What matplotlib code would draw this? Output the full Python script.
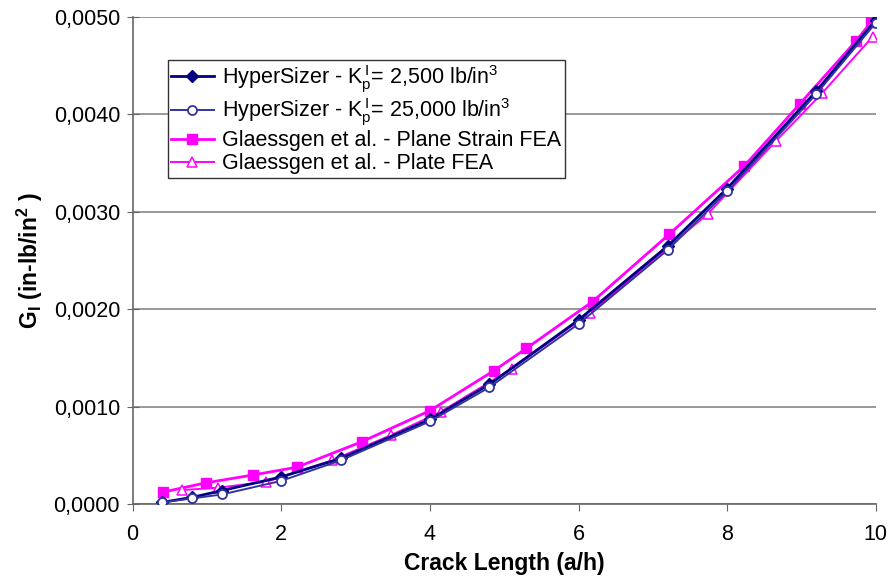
import matplotlib
matplotlib.use("Agg")
import matplotlib.pyplot as plt
from matplotlib.ticker import FuncFormatter, MultipleLocator

plt.rcParams['font.family'] = ['Liberation Sans', 'DejaVu Sans']
plt.rcParams['mathtext.fontset'] = 'custom'
plt.rcParams['mathtext.rm'] = 'Liberation Sans'
plt.rcParams['mathtext.it'] = 'Liberation Sans'
plt.rcParams['mathtext.bf'] = 'Liberation Sans:bold'

# HyperSizer data (same crack lengths for both foundation stiffnesses)
hs_x = [0.4, 0.8, 1.2, 2.0, 2.8, 4.0, 4.8, 6.0, 7.2, 8.0, 9.2, 10.0]
hs_2500 = [0.00002, 0.00007, 0.00014, 0.00028, 0.00047, 0.00087, 0.00123,
           0.00189, 0.00265, 0.00324, 0.00424, 0.00497]
hs_25000 = [0.00002, 0.00006, 0.00010, 0.00024, 0.00045, 0.00085, 0.00120,
            0.00185, 0.00261, 0.00321, 0.00421, 0.00494]

# Glaessgen et al. - Plane Strain FEA
ps_x = [0.41, 0.99, 1.62, 2.21, 3.08, 4.0, 4.86, 5.3, 6.19, 7.22, 8.23, 8.98, 9.73, 9.94]
ps_y = [0.000125, 0.00022, 0.00030, 0.00038, 0.00064, 0.00096, 0.00137, 0.00160,
        0.00208, 0.00277, 0.00347, 0.00411, 0.00475, 0.00495]

# Glaessgen et al. - Plate FEA
pl_x = [0.66, 1.15, 1.80, 2.68, 3.48, 4.15, 5.1, 6.15, 7.74, 8.66, 9.28, 9.96]
pl_y = [0.000145, 0.00017, 0.00023, 0.00045, 0.00071, 0.00095, 0.00139, 0.00196,
        0.00298, 0.00373, 0.00422, 0.00480]

labels = [r"HyperSizer - K$_\mathregular{p}^{\,\mathregular{I}}$= 2,500 lb/in$^\mathregular{3}$",
          r"HyperSizer - K$_\mathregular{p}^{\,\mathregular{I}}$= 25,000 lb/in$^\mathregular{3}$",
          "Glaessgen et al. - Plane Strain FEA",
          "Glaessgen et al. - Plate FEA"]

fig = plt.figure(figsize=(8.9, 5.87), dpi=100)
ax = fig.add_axes([0.149, 0.141, 0.835, 0.830])

navy = '#000080'
circ = '#3333a0'
mag = '#ff00ff'

ax.plot(hs_x, hs_2500, color=navy, lw=2.0, marker='D', ms=6, mfc=navy, mec=navy,
        label=labels[0], zorder=4)
ax.plot(hs_x, hs_25000, color=circ, lw=1.4, marker='o', ms=6.5, mfc='white', mec=circ,
        mew=1.3, label=labels[1], zorder=5)
ax.plot(ps_x, ps_y, color=mag, lw=2.0, marker='s', ms=6.5, mfc=mag, mec=mag,
        label=labels[2], zorder=3)
ax.plot(pl_x, pl_y, color=mag, lw=1.4, marker='^', ms=7, mfc='white', mec=mag,
        mew=1.1, label=labels[3], zorder=3)

ax.set_xlim(0, 10)
ax.set_ylim(0, 0.005)
ax.xaxis.set_major_locator(MultipleLocator(2))
ax.yaxis.set_major_locator(MultipleLocator(0.001))
ax.yaxis.set_major_formatter(FuncFormatter(lambda v, p: f"{v:.4f}".replace('.', ',')))

ax.grid(axis='y', color='#888888', lw=1.2)
ax.set_axisbelow(True)
for s in ['top', 'right']:
    ax.spines[s].set_visible(False)
for s in ['left', 'bottom']:
    ax.spines[s].set_color('#666666')
    ax.spines[s].set_linewidth(1.2)
ax.tick_params(axis='y', direction='inout', length=8, color='#666666', labelsize=15.5, pad=5)
ax.tick_params(axis='x', direction='out', length=5, color='#666666', labelsize=15.5, pad=9)

ax.set_xlabel("Crack Length (a/h)", fontsize=16.5, fontweight='bold', labelpad=5)
ax.set_ylabel(r"G$_\mathregular{I}$ (in-lb/in$^\mathregular{2}$ )", fontsize=16.5,
              fontweight='bold', labelpad=6)

leg = ax.legend(loc='upper left', bbox_to_anchor=(0.047, 0.912), fontsize=15.5,
                frameon=True, fancybox=False, edgecolor='#333333', framealpha=1,
                borderpad=0.15, labelspacing=0.1, handlelength=2.0, handletextpad=0.4,
                borderaxespad=0)
leg.get_frame().set_linewidth(1.0)

fig.savefig("out.png", dpi=100)
